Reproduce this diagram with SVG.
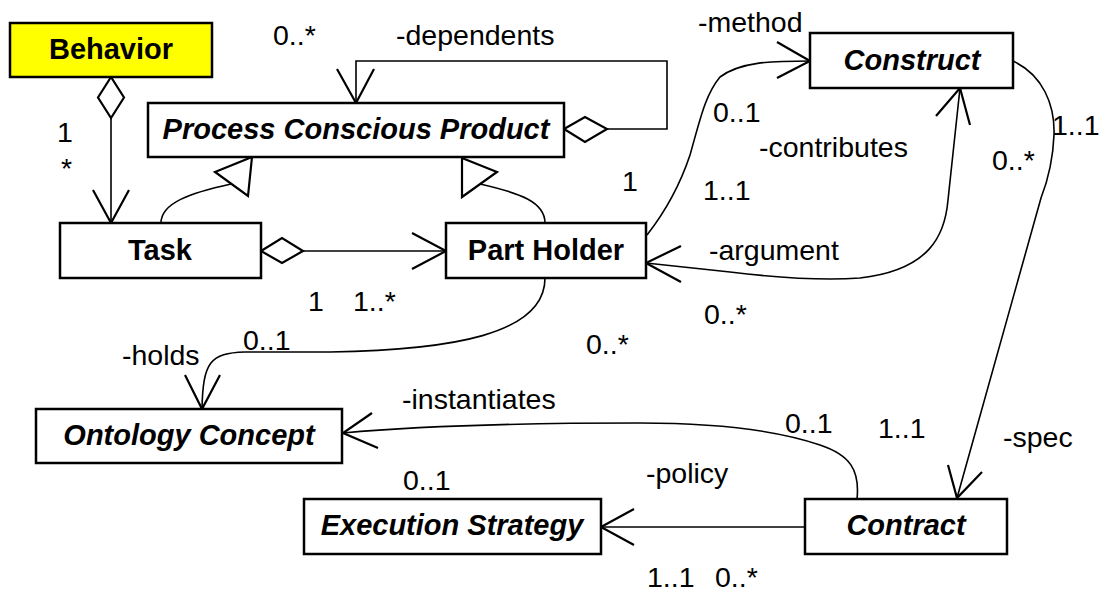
<svg xmlns="http://www.w3.org/2000/svg" width="1101" height="591" viewBox="0 0 1101 591">
<style>
.box{fill:#fff;stroke:#000;stroke-width:2.5}
.name{font-family:"Liberation Sans",Arial,sans-serif;font-size:29px;font-weight:bold;text-anchor:middle;fill:#000}
.abs{font-style:italic}
.lbl{font-family:"Liberation Sans",Arial,sans-serif;font-size:28.5px;fill:#000}
.ln{fill:none;stroke:#000;stroke-width:1.6}
.ah{fill:none;stroke:#000;stroke-width:2.2}
.dia{fill:#fff;stroke:#000;stroke-width:2.2}
</style>
<rect width="1101" height="591" fill="#fff"/>
<g id="connectors">
  <!-- Behavior -> Task -->
  <path class="ln" d="M111,118 L111,223"/>
  <polygon class="dia" points="111,77 98,97.5 111,118 124,97.5"/>
  <polyline class="ah" points="93,190 111,223 129,190"/>
  <!-- PCP self loop -->
  <path class="ln" d="M607,129 L667,129 L667,61 L356,61 L356,103"/>
  <polygon class="dia" points="564,129 585,117 607,129 585,142"/>
  <polyline class="ah" points="337,69 356,103 374,69"/>
  <!-- Task generalization -->
  <path class="ln" d="M161,223 C161,203 190,193 231,184"/>
  <polygon class="dia" points="252,157 215,172 248,196"/>
  <!-- Part Holder generalization -->
  <path class="ln" d="M545,223 C545,202 520,193 480,184"/>
  <polygon class="dia" points="462,158 497,172 462,197"/>
  <!-- Task -> Part Holder -->
  <path class="ln" d="M303,251 L446,251"/>
  <polygon class="dia" points="261,251 282,238 303,251 282,263"/>
  <polyline class="ah" points="412,233 446,251 412,269"/>
  <!-- holds -->
  <path class="ln" d="M545,278 C545,335 450,350 330,352 L245,352 C210,353 203,362 202,409"/>
  <polyline class="ah" points="185,375 202,409 220,375"/>
  <!-- method -->
  <path class="ln" d="M647,235 C665,212 680,185 690,155 C700,120 705,95 720,77 C740,62 770,61 810,61"/>
  <polyline class="ah" points="777,42 810,61 777,78"/>
  <!-- contributes / argument -->
  <path class="ln" d="M646,263 L730,272 C780,278 820,281 860,278 C930,270 945,235 948,200 L960,88"/>
  <polyline class="ah" points="681,246 646,263 681,282"/>
  <polyline class="ah" points="936,116 960,88 970,125"/>
  <!-- spec -->
  <path class="ln" d="M1013,61 C1043,75 1055,105 1054,135 C1053,160 1048,180 1041,198 L957,498"/>
  <polyline class="ah" points="948,465 957,498 982,472"/>
  <!-- instantiates -->
  <path class="ln" d="M857,499 C860,470 850,455 820,445 C770,428 700,423 640,423 C520,423 420,426 343,433"/>
  <polyline class="ah" points="372,413 343,433 378,448"/>
  <!-- policy -->
  <path class="ln" d="M805,527 L601,527"/>
  <polyline class="ah" points="634,509 601,527 634,545"/>
</g>
<g id="labels">
  <text class="lbl" x="273" y="45">0..*</text>
  <text class="lbl" x="396" y="45">-dependents</text>
  <text class="lbl" x="698" y="32">-method</text>
  <text class="lbl" x="57" y="142">1</text>
  <text class="lbl" x="61" y="178">*</text>
  <text class="lbl" x="713" y="122">0..1</text>
  <text class="lbl" x="759" y="157">-contributes</text>
  <text class="lbl" x="992" y="170">0..*</text>
  <text class="lbl" x="1052" y="135">1..1</text>
  <text class="lbl" x="622" y="191">1</text>
  <text class="lbl" x="703" y="200">1..1</text>
  <text class="lbl" x="308" y="311">1</text>
  <text class="lbl" x="353" y="311">1..*</text>
  <text class="lbl" x="709" y="260">-argument</text>
  <text class="lbl" x="704" y="324">0..*</text>
  <text class="lbl" x="122" y="365">-holds</text>
  <text class="lbl" x="243" y="350">0..1</text>
  <text class="lbl" x="586" y="354">0..*</text>
  <text class="lbl" x="402" y="409">-instantiates</text>
  <text class="lbl" x="785" y="433">0..1</text>
  <text class="lbl" x="878" y="438">1..1</text>
  <text class="lbl" x="1003" y="447">-spec</text>
  <text class="lbl" x="403" y="490">0..1</text>
  <text class="lbl" x="646" y="483">-policy</text>
  <text class="lbl" x="647" y="587">1..1</text>
  <text class="lbl" x="715" y="587">0..*</text>
</g>
<g id="node-behavior">
  <rect class="box" x="10" y="23" width="202" height="54" style="fill:#ffff00"/>
  <text class="name" x="111" y="59">Behavior</text>
</g>
<g id="node-pcp">
  <rect class="box" x="148" y="103" width="416" height="54"/>
  <text class="name abs" x="356" y="139">Process Conscious Product</text>
</g>
<g id="node-construct">
  <rect class="box" x="810" y="33" width="203" height="55"/>
  <text class="name abs" x="912" y="70">Construct</text>
</g>
<g id="node-task">
  <rect class="box" x="60" y="223" width="201" height="55"/>
  <text class="name" x="160" y="260">Task</text>
</g>
<g id="node-partholder">
  <rect class="box" x="446" y="223" width="200" height="55"/>
  <text class="name" x="546" y="260">Part Holder</text>
</g>
<g id="node-ontology">
  <rect class="box" x="36" y="409" width="306" height="54"/>
  <text class="name abs" x="189" y="445">Ontology Concept</text>
</g>
<g id="node-execution">
  <rect class="box" x="304" y="499" width="297" height="55"/>
  <text class="name abs" x="452" y="535">Execution Strategy</text>
</g>
<g id="node-contract">
  <rect class="box" x="805" y="499" width="202" height="55"/>
  <text class="name abs" x="906" y="535">Contract</text>
</g>
</svg>
